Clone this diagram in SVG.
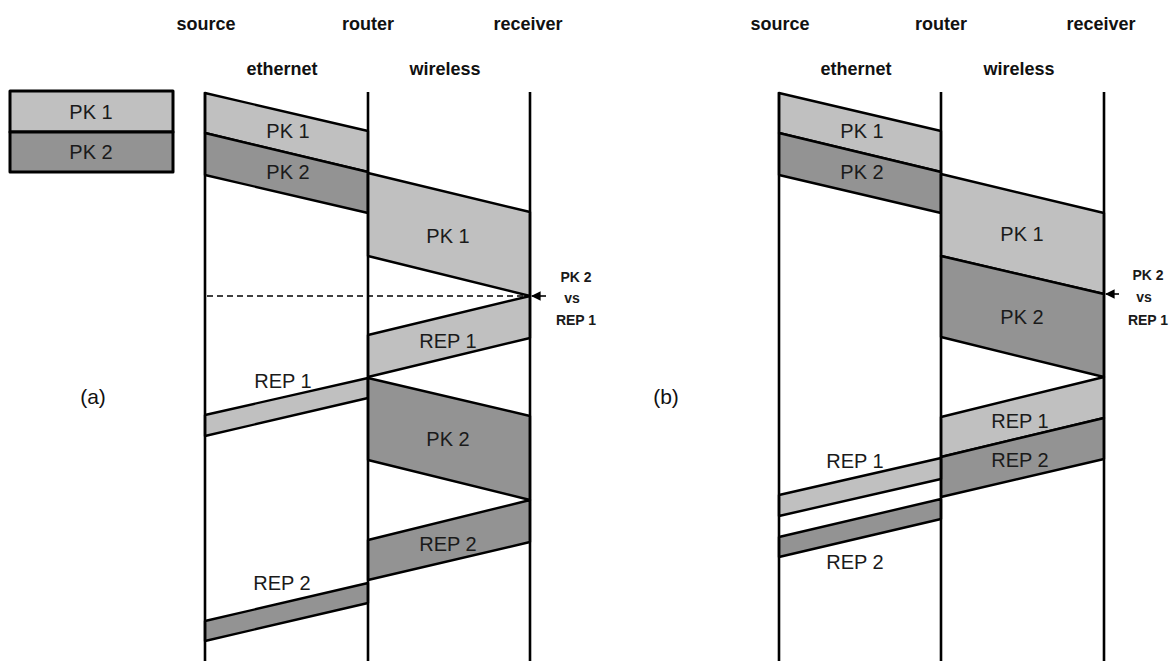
<svg xmlns="http://www.w3.org/2000/svg" width="1171" height="661" viewBox="0 0 1171 661">
  <style>
    .life { stroke: #000; stroke-width: 2.6; fill: none; }
    .pk1 { fill: #c0c0c0; stroke: #000; stroke-width: 2.4; stroke-linejoin: round; }
    .pk2 { fill: #939393; stroke: #000; stroke-width: 2.4; stroke-linejoin: round; }
    .key { stroke-width: 3; }
    .lbl { font-family: "Liberation Sans", Arial, sans-serif; font-size: 20px; fill: #1a1a1a; text-anchor: middle; }
    .hdr { font-family: "Liberation Sans", Arial, sans-serif; font-size: 18px; font-weight: bold; fill: #111; text-anchor: middle; }
    .note { font-family: "Liberation Sans", Arial, sans-serif; font-size: 14px; font-weight: bold; fill: #1a1a1a; text-anchor: middle; }
    .tag { font-family: "Liberation Sans", Arial, sans-serif; font-size: 21px; fill: #111; text-anchor: middle; }
    .dash { stroke: #000; stroke-width: 1.4; stroke-dasharray: 6 4; fill: none; }
    .arr { stroke: #000; stroke-width: 1.6; fill: none; }
  </style>
  <defs>
    <marker id="head" viewBox="0 0 10 10" refX="9" refY="5" markerWidth="6" markerHeight="6" orient="auto">
      <path d="M0,0 L10,5 L0,10 z" fill="#000"/>
    </marker>
  </defs>
  <rect width="1171" height="661" fill="#fff"/>

  <!-- legend -->
  <g id="legend">
    <rect class="pk1 key" x="10" y="91" width="163" height="41"/>
    <rect class="pk2 key" x="10" y="132" width="163" height="40"/>
    <text class="lbl" x="91" y="119">PK 1</text>
    <text class="lbl" x="91" y="159">PK 2</text>
  </g>

  <!-- ===== scenario (a) ===== -->
  <g id="a-headers">
    <text class="hdr" x="206" y="30">source</text>
    <text class="hdr" x="368" y="30">router</text>
    <text class="hdr" x="528" y="30">receiver</text>
    <text class="hdr" x="282" y="75">ethernet</text>
    <text class="hdr" x="445" y="75">wireless</text>
    <text class="tag" x="93" y="404">(a)</text>
  </g>

  <g id="a-pk1-eth">
    <polygon class="pk1" points="205,93 368,131 368,172 205,133"/>
    <text class="lbl" x="288" y="138">PK 1</text>
  </g>
  <g id="a-pk2-eth">
    <polygon class="pk2" points="205,133 368,172 368,213 205,175"/>
    <text class="lbl" x="288" y="179">PK 2</text>
  </g>
  <g id="a-pk1-wl">
    <polygon class="pk1" points="368,173 530,212 530,296 368,256"/>
    <text class="lbl" x="448" y="243">PK 1</text>
  </g>
  <g id="a-rep1-wl">
    <polygon class="pk1" points="368,335 530,296 530,338 368,377"/>
    <text class="lbl" x="448" y="348">REP 1</text>
  </g>
  <g id="a-rep1-eth">
    <polygon class="pk1" points="205,415 368,378 368,398 205,436"/>
    <text class="lbl" x="283" y="388">REP 1</text>
  </g>
  <g id="a-pk2-wl">
    <polygon class="pk2" points="368,378 530,416 530,500 368,460"/>
    <text class="lbl" x="448" y="446">PK 2</text>
  </g>
  <g id="a-rep2-wl">
    <polygon class="pk2" points="368,540 530,500 530,542 368,580"/>
    <text class="lbl" x="448" y="551">REP 2</text>
  </g>
  <g id="a-rep2-eth">
    <polygon class="pk2" points="205,621 368,583 368,603 205,641"/>
    <text class="lbl" x="282" y="590">REP 2</text>
  </g>

  <g id="a-lifelines">
    <line class="life" x1="205" y1="92" x2="205" y2="661"/>
    <line class="life" x1="368" y1="92" x2="368" y2="661"/>
    <line class="life" x1="530" y1="92" x2="530" y2="661"/>
  </g>

  <g id="a-collision">
    <text class="note" x="576" y="282">PK 2</text>
    <text class="note" x="572" y="303">vs</text>
    <text class="note" x="576" y="325">REP 1</text>
  </g>

  <!-- ===== scenario (b) ===== -->
  <g id="b-headers">
    <text class="hdr" x="780" y="30">source</text>
    <text class="hdr" x="941" y="30">router</text>
    <text class="hdr" x="1101" y="30">receiver</text>
    <text class="hdr" x="856" y="75">ethernet</text>
    <text class="hdr" x="1019" y="75">wireless</text>
    <text class="tag" x="666" y="404">(b)</text>
  </g>

  <g id="b-pk1-eth">
    <polygon class="pk1" points="779,93 941,131 941,172 779,133"/>
    <text class="lbl" x="862" y="138">PK 1</text>
  </g>
  <g id="b-pk2-eth">
    <polygon class="pk2" points="779,133 941,172 941,213 779,175"/>
    <text class="lbl" x="862" y="179">PK 2</text>
  </g>
  <g id="b-pk1-wl">
    <polygon class="pk1" points="941,174 1104,213 1104,294 941,256"/>
    <text class="lbl" x="1022" y="241">PK 1</text>
  </g>
  <g id="b-pk2-wl">
    <polygon class="pk2" points="941,256 1104,294 1104,377 941,337"/>
    <text class="lbl" x="1022" y="324">PK 2</text>
  </g>
  <g id="b-rep1-wl">
    <polygon class="pk1" points="941,417 1104,377 1104,418 941,457"/>
    <text class="lbl" x="1020" y="428">REP 1</text>
  </g>
  <g id="b-rep2-wl">
    <polygon class="pk2" points="941,457 1104,418 1104,459 941,497"/>
    <text class="lbl" x="1020" y="467">REP 2</text>
  </g>
  <g id="b-rep1-eth">
    <polygon class="pk1" points="779,495 941,458 941,479 779,516"/>
    <text class="lbl" x="855" y="468">REP 1</text>
  </g>
  <g id="b-rep2-eth">
    <polygon class="pk2" points="779,537 941,499 941,519 779,557"/>
    <text class="lbl" x="855" y="569">REP 2</text>
  </g>

  <g id="b-lifelines">
    <line class="life" x1="779" y1="92" x2="779" y2="661"/>
    <line class="life" x1="941" y1="92" x2="941" y2="661"/>
    <line class="life" x1="1104" y1="92" x2="1104" y2="661"/>
  </g>

  <g id="b-collision">
    <text class="note" x="1148" y="280">PK 2</text>
    <text class="note" x="1144" y="302">vs</text>
    <text class="note" x="1148" y="325">REP 1</text>
  </g>

  <!-- connectors: time reference and collision pointers -->
  <g id="connectors">
    <line class="dash" x1="207" y1="296" x2="528" y2="296"/>
    <line class="arr" x1="546" y1="296" x2="532" y2="296" marker-end="url(#head)"/>
    <line class="arr" x1="1119" y1="294" x2="1106" y2="294" marker-end="url(#head)"/>
  </g>
</svg>
